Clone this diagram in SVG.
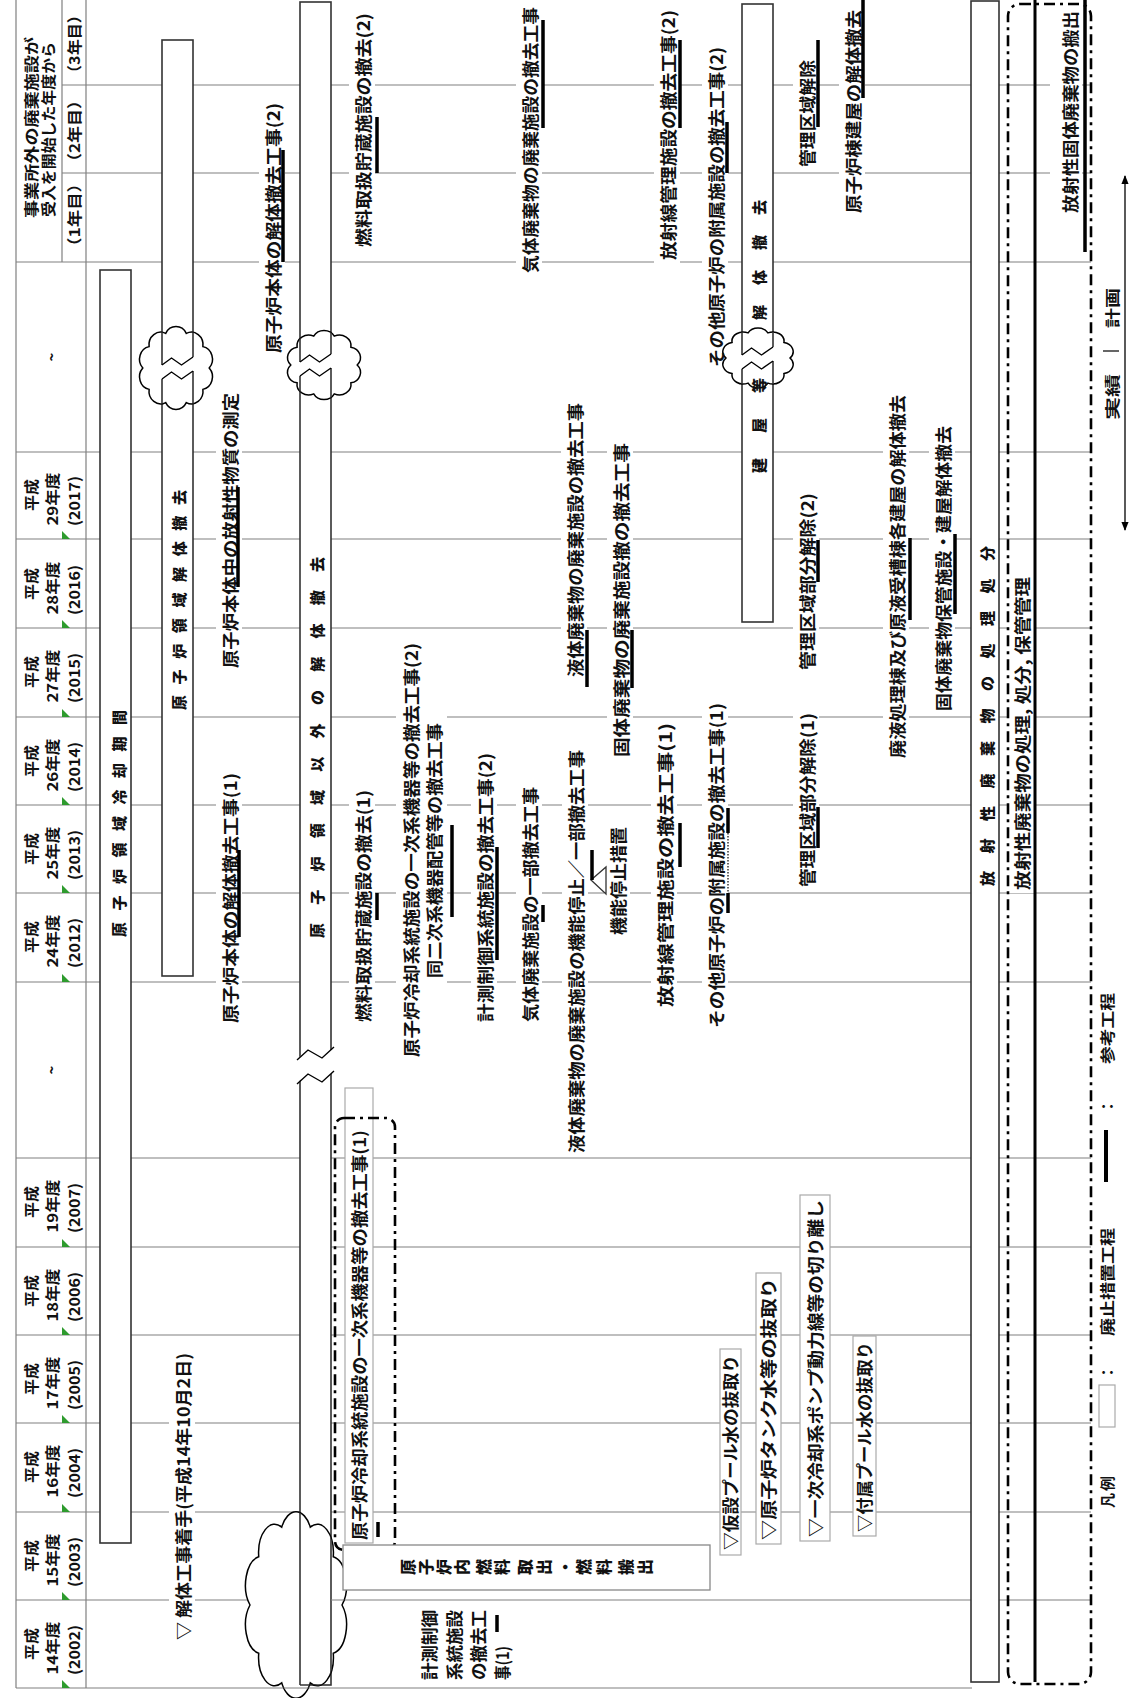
<svg xmlns="http://www.w3.org/2000/svg" width="1129" height="1698" viewBox="0 0 1129 1698">
<style>
.gl{stroke:#808080;stroke-width:1.2;fill:none}
.bar{fill:#fff;stroke:#333;stroke-width:1.6}
.bl{stroke:#333;stroke-width:1.6;fill:none}
.t{font-family:"Noto Sans CJK JP","Noto Sans",sans-serif;font-weight:bold;font-size:17px;fill:#111;dominant-baseline:central}
.v{font-family:"Noto Sans CJK JP","Noto Sans",sans-serif;font-weight:bold;font-size:16.5px;fill:#111;dominant-baseline:central}
.s{font-family:"Noto Sans CJK JP","Noto Sans",sans-serif;font-weight:bold;font-size:15px;fill:#111;dominant-baseline:central}
.h{font-family:"Noto Sans CJK JP","Noto Sans",sans-serif;font-weight:bold;font-size:15px;fill:#111;dominant-baseline:central;text-anchor:middle}
.bt{font-family:"Noto Sans CJK JP","Noto Sans",sans-serif;font-weight:900;font-size:15px;fill:#111;dominant-baseline:central}
.bx{font-family:"Noto Sans CJK JP","Noto Sans",sans-serif;font-weight:900;font-size:16px;fill:#111;dominant-baseline:central;text-anchor:middle}
.bg{fill:#fff}
.lb{fill:#fff;stroke:#aaa;stroke-width:1.2}
.ul{stroke:#000;stroke-width:3.5;fill:none}
.cl{fill:#fff;stroke:#000;stroke-width:1.5}
.zz{fill:none;stroke:#000;stroke-width:1.4}
.gm{fill:#2e9b2e}
.dd{fill:none;stroke:#000;stroke-width:2.6;stroke-dasharray:11 5 3 5}
</style>
<defs>
<path id="cloud" vector-effect="non-scaling-stroke" d="M40,0 A14,14 0 0 1 32.4,23.5 A14,14 0 0 1 12.4,38 A14,14 0 0 1 -12.4,38 A14,14 0 0 1 -32.4,23.5 A14,14 0 0 1 -40,0 A14,14 0 0 1 -32.4,-23.5 A14,14 0 0 1 -12.4,-38 A14,14 0 0 1 12.4,-38 A14,14 0 0 1 32.4,-23.5 A14,14 0 0 1 40,0 Z"/>
<clipPath id="c1"><use href="#cloud" transform="translate(176,368) scale(0.83,0.91)"/></clipPath>
<clipPath id="c2"><use href="#cloud" transform="translate(324,365) scale(0.83,0.76)"/></clipPath>
<clipPath id="c3"><use href="#cloud" transform="translate(758,358) scale(0.8,0.66)"/></clipPath>
<clipPath id="c4"><use href="#cloud" transform="translate(296,1605) scale(1.15,2.05)"/></clipPath>
<marker id="ah" viewBox="0 0 10 10" refX="9" refY="5" markerWidth="9" markerHeight="9" orient="auto-start-reverse" markerUnits="userSpaceOnUse"><path d="M0,1 L10,5 L0,9 Z" fill="#000"/></marker>
</defs>
<rect width="1129" height="1698" fill="#fff"/>

<g id="grid">
<path class="gl" d="M16,0V1688 M86,0V1688 M62,0V262 M62,85H1091 M62,173H1091 M16,262H1091 M16,452H1091 M16,539H1091 M16,628H1091 M16,717H1091 M16,805H1091 M16,893H1091 M16,982H1091 M16,1158H1091 M16,1247H1091 M16,1335H1091 M16,1423H1091 M16,1512H1091 M16,1600H1091 M16,1688H972"/>
</g>

<g id="header">
<text class="s" transform="translate(30,218) rotate(-90)" textLength="181" lengthAdjust="spacingAndGlyphs">事業所外の廃棄施設が</text>
<text class="s" transform="translate(47,217) rotate(-90)" textLength="175" lengthAdjust="spacingAndGlyphs">受入を開始した年度から</text>
<text class="h" transform="translate(73,215) rotate(-90)" textLength="80" lengthAdjust="spacingAndGlyphs">（1年目）</text>
<text class="h" transform="translate(73,131) rotate(-90)" textLength="78" lengthAdjust="spacingAndGlyphs">（2年目）</text>
<text class="h" transform="translate(73,44) rotate(-90)" textLength="74" lengthAdjust="spacingAndGlyphs">（3年目）</text>
<text class="h" font-weight="normal" transform="translate(50,357) rotate(-90)">~</text>
<text class="h" font-weight="normal" transform="translate(50,1070) rotate(-90)">~</text>
<g id="years">
<text class="h" transform="translate(30,1644) rotate(-90)" textLength="32" lengthAdjust="spacingAndGlyphs">平成</text><text class="h" transform="translate(51,1648) rotate(-90)" textLength="53" lengthAdjust="spacingAndGlyphs">14年度</text><text class="h" transform="translate(73,1650) rotate(-90)" textLength="50" lengthAdjust="spacingAndGlyphs">(2002)</text>
<text class="h" transform="translate(30,1556) rotate(-90)" textLength="32" lengthAdjust="spacingAndGlyphs">平成</text><text class="h" transform="translate(51,1560) rotate(-90)" textLength="53" lengthAdjust="spacingAndGlyphs">15年度</text><text class="h" transform="translate(73,1562) rotate(-90)" textLength="50" lengthAdjust="spacingAndGlyphs">(2003)</text>
<text class="h" transform="translate(30,1467) rotate(-90)" textLength="32" lengthAdjust="spacingAndGlyphs">平成</text><text class="h" transform="translate(51,1471) rotate(-90)" textLength="53" lengthAdjust="spacingAndGlyphs">16年度</text><text class="h" transform="translate(73,1473) rotate(-90)" textLength="50" lengthAdjust="spacingAndGlyphs">(2004)</text>
<text class="h" transform="translate(30,1379) rotate(-90)" textLength="32" lengthAdjust="spacingAndGlyphs">平成</text><text class="h" transform="translate(51,1383) rotate(-90)" textLength="53" lengthAdjust="spacingAndGlyphs">17年度</text><text class="h" transform="translate(73,1385) rotate(-90)" textLength="50" lengthAdjust="spacingAndGlyphs">(2005)</text>
<text class="h" transform="translate(30,1291) rotate(-90)" textLength="32" lengthAdjust="spacingAndGlyphs">平成</text><text class="h" transform="translate(51,1295) rotate(-90)" textLength="53" lengthAdjust="spacingAndGlyphs">18年度</text><text class="h" transform="translate(73,1297) rotate(-90)" textLength="50" lengthAdjust="spacingAndGlyphs">(2006)</text>
<text class="h" transform="translate(30,1202) rotate(-90)" textLength="32" lengthAdjust="spacingAndGlyphs">平成</text><text class="h" transform="translate(51,1206) rotate(-90)" textLength="53" lengthAdjust="spacingAndGlyphs">19年度</text><text class="h" transform="translate(73,1208) rotate(-90)" textLength="50" lengthAdjust="spacingAndGlyphs">(2007)</text>
<text class="h" transform="translate(30,937) rotate(-90)" textLength="32" lengthAdjust="spacingAndGlyphs">平成</text><text class="h" transform="translate(51,941) rotate(-90)" textLength="53" lengthAdjust="spacingAndGlyphs">24年度</text><text class="h" transform="translate(73,943) rotate(-90)" textLength="50" lengthAdjust="spacingAndGlyphs">(2012)</text>
<text class="h" transform="translate(30,849) rotate(-90)" textLength="32" lengthAdjust="spacingAndGlyphs">平成</text><text class="h" transform="translate(51,853) rotate(-90)" textLength="53" lengthAdjust="spacingAndGlyphs">25年度</text><text class="h" transform="translate(73,855) rotate(-90)" textLength="50" lengthAdjust="spacingAndGlyphs">(2013)</text>
<text class="h" transform="translate(30,761) rotate(-90)" textLength="32" lengthAdjust="spacingAndGlyphs">平成</text><text class="h" transform="translate(51,765) rotate(-90)" textLength="53" lengthAdjust="spacingAndGlyphs">26年度</text><text class="h" transform="translate(73,767) rotate(-90)" textLength="50" lengthAdjust="spacingAndGlyphs">(2014)</text>
<text class="h" transform="translate(30,672) rotate(-90)" textLength="32" lengthAdjust="spacingAndGlyphs">平成</text><text class="h" transform="translate(51,676) rotate(-90)" textLength="53" lengthAdjust="spacingAndGlyphs">27年度</text><text class="h" transform="translate(73,678) rotate(-90)" textLength="50" lengthAdjust="spacingAndGlyphs">(2015)</text>
<text class="h" transform="translate(30,584) rotate(-90)" textLength="32" lengthAdjust="spacingAndGlyphs">平成</text><text class="h" transform="translate(51,588) rotate(-90)" textLength="53" lengthAdjust="spacingAndGlyphs">28年度</text><text class="h" transform="translate(73,590) rotate(-90)" textLength="50" lengthAdjust="spacingAndGlyphs">(2016)</text>
<text class="h" transform="translate(30,495) rotate(-90)" textLength="32" lengthAdjust="spacingAndGlyphs">平成</text><text class="h" transform="translate(51,499) rotate(-90)" textLength="53" lengthAdjust="spacingAndGlyphs">29年度</text><text class="h" transform="translate(73,501) rotate(-90)" textLength="50" lengthAdjust="spacingAndGlyphs">(2017)</text>
</g>
<g id="marks">
<polygon class="gm" points="62,1688 70,1688 62,1680"/><polygon class="gm" points="62,1600 70,1600 62,1592"/><polygon class="gm" points="62,1512 70,1512 62,1504"/><polygon class="gm" points="62,1423 70,1423 62,1415"/><polygon class="gm" points="62,1335 70,1335 62,1327"/><polygon class="gm" points="62,1247 70,1247 62,1239"/><polygon class="gm" points="62,982 70,982 62,974"/><polygon class="gm" points="62,893 70,893 62,885"/><polygon class="gm" points="62,805 70,805 62,797"/><polygon class="gm" points="62,717 70,717 62,709"/><polygon class="gm" points="62,628 70,628 62,620"/><polygon class="gm" points="62,539 70,539 62,531"/>
</g>
</g>

<g id="label-bg">
<rect class="bg" x="259" y="100" width="26" height="256"/>
<rect class="bg" x="216" y="390" width="26" height="281"/>
<rect class="bg" x="216" y="770" width="26" height="256"/>
<rect class="bg" x="349" y="10" width="26" height="240"/>
<rect class="bg" x="516" y="4" width="26" height="272"/>
<rect class="bg" x="561" y="400" width="26" height="280"/>
<rect class="bg" x="607" y="440" width="26" height="320"/>
<rect class="bg" x="396" y="640" width="51" height="420"/>
<rect class="bg" x="349" y="787" width="26" height="238"/>
<rect class="bg" x="471" y="750" width="26" height="275"/>
<rect class="bg" x="516" y="784" width="26" height="241"/>
<rect class="bg" x="562" y="747" width="26" height="409"/>
<rect class="bg" x="604" y="824" width="26" height="114"/>
<rect class="bg" x="651" y="720" width="26" height="290"/>
<rect class="bg" x="702" y="700" width="26" height="331"/>
<rect class="bg" x="793" y="710" width="26" height="180"/>
<rect class="bg" x="793" y="490" width="26" height="183"/>
<rect class="bg" x="883" y="392" width="26" height="369"/>
<rect class="bg" x="929" y="423" width="26" height="291"/>
<rect class="bg" x="654" y="7" width="26" height="256"/>
<rect class="bg" x="702" y="44" width="26" height="326"/>
<rect class="bg" x="793" y="57" width="26" height="113"/>
<rect class="bg" x="839" y="7" width="26" height="209"/>
<rect class="bg" x="1009" y="574" width="26" height="319"/>
<rect class="bg" x="1050" y="8" width="32" height="208"/>
<rect class="bg" x="169" y="1350" width="26" height="293"/>
<rect class="bg" x="414" y="1606" width="96" height="78"/>
</g>

<g id="bars">
<rect class="bar" x="100" y="270" width="31" height="1273"/>
<rect class="bar" x="162" y="40" width="31" height="936"/>
<rect class="bar" x="300" y="2" width="31" height="1683"/>
<rect class="bar" x="742" y="4" width="31" height="618"/>
<rect class="bar" x="971" y="1" width="28" height="1681"/>
</g>

<g id="breaks">
<use href="#cloud" class="cl" transform="translate(176,368) scale(0.83,0.91)"/>
<g clip-path="url(#c1)"><path class="bl" d="M162,320V365 M193,320V357 M162,379V420 M193,371V420"/></g>
<polyline class="zz" points="162,365 171.5,358 181.5,365 193,357"/>
<polyline class="zz" points="162,379 171.5,372 181.5,379 193,371"/>

<use href="#cloud" class="cl" transform="translate(324,365) scale(0.83,0.76)"/>
<g clip-path="url(#c2)"><path class="bl" d="M300,320V362 M331,320V354 M300,376V420 M331,368V420"/></g>
<polyline class="zz" points="300,362 309.5,355 319.5,362 331,354"/>
<polyline class="zz" points="300,376 309.5,369 319.5,376 331,368"/>

<use href="#cloud" class="cl" transform="translate(758,358) scale(0.8,0.66)"/>
<g clip-path="url(#c3)"><path class="bl" d="M742,310V355 M773,310V347 M742,369V410 M773,361V410"/></g>
<polyline class="zz" points="742,355 751.5,348 761.5,355 773,347"/>
<polyline class="zz" points="742,369 751.5,362 761.5,369 773,361"/>

<polygon fill="#fff" points="298,1058 308,1050 322,1058 333,1048 333,1072 322,1082 308,1074 298,1082"/>
<polyline class="zz" points="297,1060 308,1050 322,1058 334,1047"/>
<polyline class="zz" points="297,1084 308,1074 322,1082 334,1071"/>

<use href="#cloud" class="cl" transform="translate(296,1605) scale(1.15,2.05)"/>
<g clip-path="url(#c4)"><path class="bl" d="M300,1480V1685 M331,1480V1685 M300,1685H331"/><path class="gl" d="M331,1600H360 M230,1688H360"/></g>
</g>

<g id="bar-labels">
<text class="bt" transform="translate(118,937) rotate(-90)" textLength="227" lengthAdjust="spacing">原子炉領域冷却期間</text>
<text class="bt" transform="translate(178,710) rotate(-90)" textLength="220" lengthAdjust="spacing">原子炉領域解体撤去</text>
<text class="bt" transform="translate(316,938) rotate(-90)" textLength="381" lengthAdjust="spacing">原子炉領域以外の解体撤去</text>
<text class="bt" transform="translate(758,473) rotate(-90)" textLength="95" lengthAdjust="spacing">建屋等</text>
<text class="bt" transform="translate(758,320) rotate(-90)" textLength="120" lengthAdjust="spacing">解体撤去</text>
<text class="bt" transform="translate(986,886) rotate(-90)" textLength="340" lengthAdjust="spacing">放射性廃棄物の処理処分</text>
</g>

<g id="labels">
<text class="t" transform="translate(272,353) rotate(-90)" textLength="250" lengthAdjust="spacingAndGlyphs">原子炉本体の解体撤去工事(2)</text>
<text class="t" transform="translate(229,668) rotate(-90)" textLength="275" lengthAdjust="spacingAndGlyphs">原子炉本体中の放射性物質の測定</text>
<text class="t" transform="translate(229,1023) rotate(-90)" textLength="250" lengthAdjust="spacingAndGlyphs">原子炉本体の解体撤去工事(1)</text>
<text class="t" transform="translate(362,247) rotate(-90)" textLength="234" lengthAdjust="spacingAndGlyphs">燃料取扱貯蔵施設の撤去(2)</text>
<text class="t" transform="translate(529,273) rotate(-90)" textLength="266" lengthAdjust="spacingAndGlyphs">気体廃棄物の廃棄施設の撤去工事</text>
<text class="t" transform="translate(574,677) rotate(-90)" textLength="274" lengthAdjust="spacingAndGlyphs">液体廃棄物の廃棄施設の撤去工事</text>
<text class="t" transform="translate(620,757) rotate(-90)" textLength="314" lengthAdjust="spacingAndGlyphs">固体廃棄物の廃棄施設撤の撤去工事</text>
<text class="t" transform="translate(410,1057) rotate(-90)" textLength="414" lengthAdjust="spacingAndGlyphs">原子炉冷却系統施設の一次系機器等の撤去工事(2)</text>
<text class="t" transform="translate(433,978) rotate(-90)" textLength="255" lengthAdjust="spacingAndGlyphs">同二次系機器配管等の撤去工事</text>
<text class="t" transform="translate(362,1022) rotate(-90)" textLength="232" lengthAdjust="spacingAndGlyphs">燃料取扱貯蔵施設の撤去(1)</text>
<text class="t" transform="translate(484,1022) rotate(-90)" textLength="269" lengthAdjust="spacingAndGlyphs">計測制御系統施設の撤去工事(2)</text>
<text class="t" transform="translate(529,1022) rotate(-90)" textLength="235" lengthAdjust="spacingAndGlyphs">気体廃棄施設の一部撤去工事</text>
<text class="t" transform="translate(575,1153) rotate(-90)" textLength="403" lengthAdjust="spacingAndGlyphs">液体廃棄物の廃棄施設の機能停止／一部撤去工事</text>
<text class="t" transform="translate(617,935) rotate(-90)" textLength="108" lengthAdjust="spacingAndGlyphs">機能停止措置</text>
<text class="t" transform="translate(664,1007) rotate(-90)" textLength="284" lengthAdjust="spacingAndGlyphs">放射線管理施設の撤去工事(1)</text>
<text class="t" transform="translate(715,1028) rotate(-90)" textLength="325" lengthAdjust="spacingAndGlyphs">その他原子炉の附属施設の撤去工事(1)</text>
<text class="t" transform="translate(806,887) rotate(-90)" textLength="174" lengthAdjust="spacingAndGlyphs">管理区域部分解除(1)</text>
<text class="t" transform="translate(806,670) rotate(-90)" textLength="177" lengthAdjust="spacingAndGlyphs">管理区域部分解除(2)</text>
<text class="t" transform="translate(896,758) rotate(-90)" textLength="363" lengthAdjust="spacingAndGlyphs">廃液処理棟及び原液受槽棟各建屋の解体撤去</text>
<text class="t" transform="translate(942,711) rotate(-90)" textLength="285" lengthAdjust="spacingAndGlyphs">固体廃棄物保管施設・建屋解体撤去</text>
<text class="t" transform="translate(667,260) rotate(-90)" textLength="250" lengthAdjust="spacingAndGlyphs">放射線管理施設の撤去工事(2)</text>
<text class="t" transform="translate(715,367) rotate(-90)" textLength="320" lengthAdjust="spacingAndGlyphs">その他原子炉の附属施設の撤去工事(2)</text>
<text class="t" transform="translate(806,167) rotate(-90)" textLength="107" lengthAdjust="spacingAndGlyphs">管理区域解除</text>
<text class="t" transform="translate(852,213) rotate(-90)" textLength="203" lengthAdjust="spacingAndGlyphs">原子炉棟建屋の解体撤去</text>
<text class="v" transform="translate(1022,890) rotate(-90)" textLength="313" lengthAdjust="spacingAndGlyphs">放射性廃棄物の処理, 処分, 保管管理</text>
<text class="v" transform="translate(1070,213) rotate(-90)" textLength="202" lengthAdjust="spacingAndGlyphs">放射性固体廃棄物の搬出</text>
<text class="t" transform="translate(182,1640) rotate(-90)" textLength="287" lengthAdjust="spacingAndGlyphs">▽ 解体工事着手(平成14年10月2日)</text>
<text class="t" transform="translate(428,1680) rotate(-90)" textLength="70" lengthAdjust="spacingAndGlyphs">計測制御</text>
<text class="t" transform="translate(453,1680) rotate(-90)" textLength="70" lengthAdjust="spacingAndGlyphs">系統施設</text>
<text class="t" transform="translate(477,1680) rotate(-90)" textLength="70" lengthAdjust="spacingAndGlyphs">の撤去工</text>
<text class="t" transform="translate(501,1680) rotate(-90)" textLength="34" lengthAdjust="spacingAndGlyphs">事(1)</text>
<polygon fill="#fff" stroke="#333" stroke-width="1.3" points="591,880 606,867 606,894"/>
</g>

<g id="underlines">
<path class="ul" d="M283,150V262 M238,487V587 M239,850V937 M377,117V173 M543,20V128 M587,630V687 M632,630V688 M452,825V917 M377,893V920 M497,847V960 M543,905V922 M592,850V880 M680,823V867 M728,808V833 M728,893V913 M818,807V848 M818,540V582 M910,538V620 M955,534V614 M680,40V128 M727,122V173 M818,40V127 M863,0V98 M1085,0V252 M378,1522V1537 M497,1615V1632"/>
<path d="M728,833V893" stroke="#000" stroke-width="1.2" stroke-dasharray="1.5 1.5"/>
<path d="M1035,0V1682" stroke="#000" stroke-width="3"/>
</g>

<g id="lower-left">
<rect class="lb" x="345" y="1088" width="28" height="455"/>
<text class="v" transform="translate(359,1540) rotate(-90)" textLength="410" lengthAdjust="spacingAndGlyphs">原子炉冷却系統施設の一次系機器等の撤去工事(1)</text>
<rect class="dd" x="335" y="1118" width="60" height="432" rx="9"/>
<rect x="343" y="1545" width="367" height="45" fill="#fff" stroke="#888" stroke-width="1.3"/>
<g class="bx">
<text transform="translate(407,1567) rotate(-90)">原</text>
<text transform="translate(425,1567) rotate(-90)">子</text>
<text transform="translate(443,1567) rotate(-90)">炉</text>
<text transform="translate(461,1567) rotate(-90)">内</text>
<text transform="translate(483,1567) rotate(-90)">燃</text>
<text transform="translate(501,1567) rotate(-90)">料</text>
<text transform="translate(524,1567) rotate(-90)">取</text>
<text transform="translate(543,1567) rotate(-90)">出</text>
<text transform="translate(564,1567) rotate(-90)">・</text>
<text transform="translate(583,1567) rotate(-90)">燃</text>
<text transform="translate(603,1567) rotate(-90)">料</text>
<text transform="translate(625,1567) rotate(-90)">搬</text>
<text transform="translate(644,1567) rotate(-90)">出</text>
</g>
<rect class="lb" x="720" y="1349" width="21" height="206"/>
<text class="v" transform="translate(730,1550) rotate(-90)" textLength="195" lengthAdjust="spacingAndGlyphs">▽仮設プール水の抜取り</text>
<rect class="lb" x="756" y="1273" width="25" height="271"/>
<text class="v" transform="translate(768,1540) rotate(-90)" textLength="262" lengthAdjust="spacingAndGlyphs">▽原子炉タンク水等の抜取り</text>
<rect class="lb" x="800" y="1195" width="30" height="346"/>
<text class="v" transform="translate(815,1537) rotate(-90)" textLength="337" lengthAdjust="spacingAndGlyphs">▽一次冷却系ポンプ動力線等の切り離し</text>
<rect class="lb" x="853" y="1336" width="23" height="200"/>
<text class="v" transform="translate(864,1532) rotate(-90)" textLength="190" lengthAdjust="spacingAndGlyphs">▽付属プール水の抜取り</text>
</g>

<g id="waste-box">
<rect class="dd" x="1008" y="4" width="83" height="1680" rx="12"/>
</g>

<g id="legend">
<text class="s" transform="translate(1106,1508) rotate(-90)" textLength="32" lengthAdjust="spacing">凡例</text>
<rect class="lb" x="1099" y="1385" width="16" height="42"/>
<text class="s" transform="translate(1106,1380) rotate(-90)">：</text>
<text class="s" transform="translate(1106,1336) rotate(-90)" textLength="108" lengthAdjust="spacingAndGlyphs">廃止措置工程</text>
<path d="M1106,1130V1182" stroke="#000" stroke-width="4"/>
<text class="s" transform="translate(1106,1114) rotate(-90)">：</text>
<text class="s" transform="translate(1106,1064) rotate(-90)" textLength="71" lengthAdjust="spacingAndGlyphs">参考工程</text>
<text class="s" transform="translate(1111,420) rotate(-90)" textLength="46" lengthAdjust="spacingAndGlyphs">実績</text>
<text class="s" transform="translate(1111,328) rotate(-90)" textLength="40" lengthAdjust="spacingAndGlyphs">計画</text>
<path d="M1103,351H1119" stroke="#000" stroke-width="1.2"/>
<path d="M1125,176V530" stroke="#000" stroke-width="1.3" marker-start="url(#ah)" marker-end="url(#ah)"/>
</g>
</svg>
